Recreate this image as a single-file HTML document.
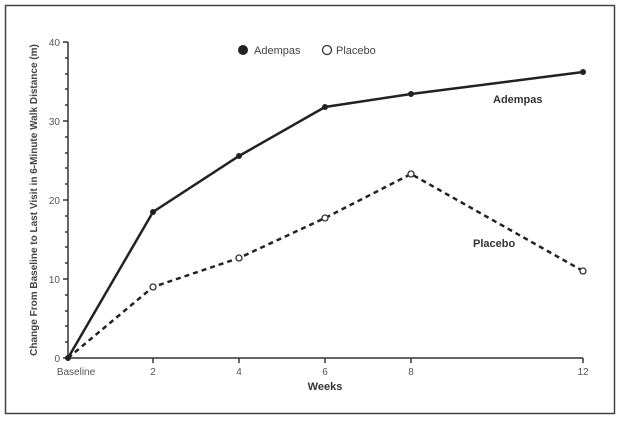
<!DOCTYPE html>
<html><head><style>body{margin:0;background:#fff}svg{display:block}</style></head><body>
<svg width="624" height="422" xmlns="http://www.w3.org/2000/svg" font-family="Liberation Sans, sans-serif">
<rect x="5.5" y="5.5" width="609" height="408" fill="#fff" stroke="#444" stroke-width="1.5"/>
<g stroke="#333" stroke-width="1.5" fill="none">
<path d="M68 42 V358 H583"/>
<path d="M63 42H68M63 121H68M63 200H68M63 279H68M63 358H68"/>
<path d="M65 58H68M65 74H68M65 89H68M65 105H68M65 137H68M65 153H68M65 168H68M65 184H68M65 216H68M65 232H68M65 247H68M65 263H68M65 295H68M65 311H68M65 326H68M65 342H68"/>
<path d="M153 358V363M239 358V363M325 358V363M411 358V363M583 358V363"/>
</g>
<g font-size="10" fill="#555" text-anchor="end">
<text x="60" y="46">40</text><text x="60" y="125">30</text><text x="60" y="204">20</text><text x="60" y="283">10</text><text x="60" y="362">0</text>
</g>
<g font-size="10" fill="#555" text-anchor="middle">
<text x="76" y="375">Baseline</text><text x="153" y="375">2</text><text x="239" y="375">4</text><text x="325" y="375">6</text><text x="411" y="375">8</text><text x="583" y="375">12</text>
</g>
<text x="325" y="390" font-size="11" font-weight="bold" fill="#333" text-anchor="middle">Weeks</text>
<text transform="translate(37,200) rotate(-90)" font-size="10" font-weight="bold" fill="#444" text-anchor="middle">Change From Baseline to Last Visit in 6-Minute Walk Distance (m)</text>
<polyline points="68,358 153,287 239,258 325,218 411,174 583,271" fill="none" stroke="#222" stroke-width="2.5" stroke-dasharray="5,4"/>
<polyline points="68,358 153,212 239,156 325,107 411,94 583,72" fill="none" stroke="#222" stroke-width="2.5"/>
<g fill="#fff" stroke="#333" stroke-width="1.3">
<circle cx="153" cy="287" r="3"/><circle cx="239" cy="258" r="3"/><circle cx="325" cy="218" r="3"/><circle cx="411" cy="174" r="3"/><circle cx="583" cy="271" r="3"/>
</g>
<g fill="#222">
<circle cx="68" cy="358" r="3"/><circle cx="153" cy="212" r="3"/><circle cx="239" cy="156" r="3"/><circle cx="325" cy="107" r="3"/><circle cx="411" cy="94" r="3"/><circle cx="583" cy="72" r="3"/>
</g>
<circle cx="243" cy="50" r="5" fill="#222"/>
<text x="254" y="54" font-size="11" fill="#444">Adempas</text>
<circle cx="327" cy="50" r="4.5" fill="#fff" stroke="#333" stroke-width="1.3"/>
<text x="336" y="54" font-size="11" fill="#444">Placebo</text>
<text x="493" y="103" font-size="11" font-weight="bold" fill="#333">Adempas</text>
<text x="473" y="247" font-size="11" font-weight="bold" fill="#333">Placebo</text>
</svg>
</body></html>
